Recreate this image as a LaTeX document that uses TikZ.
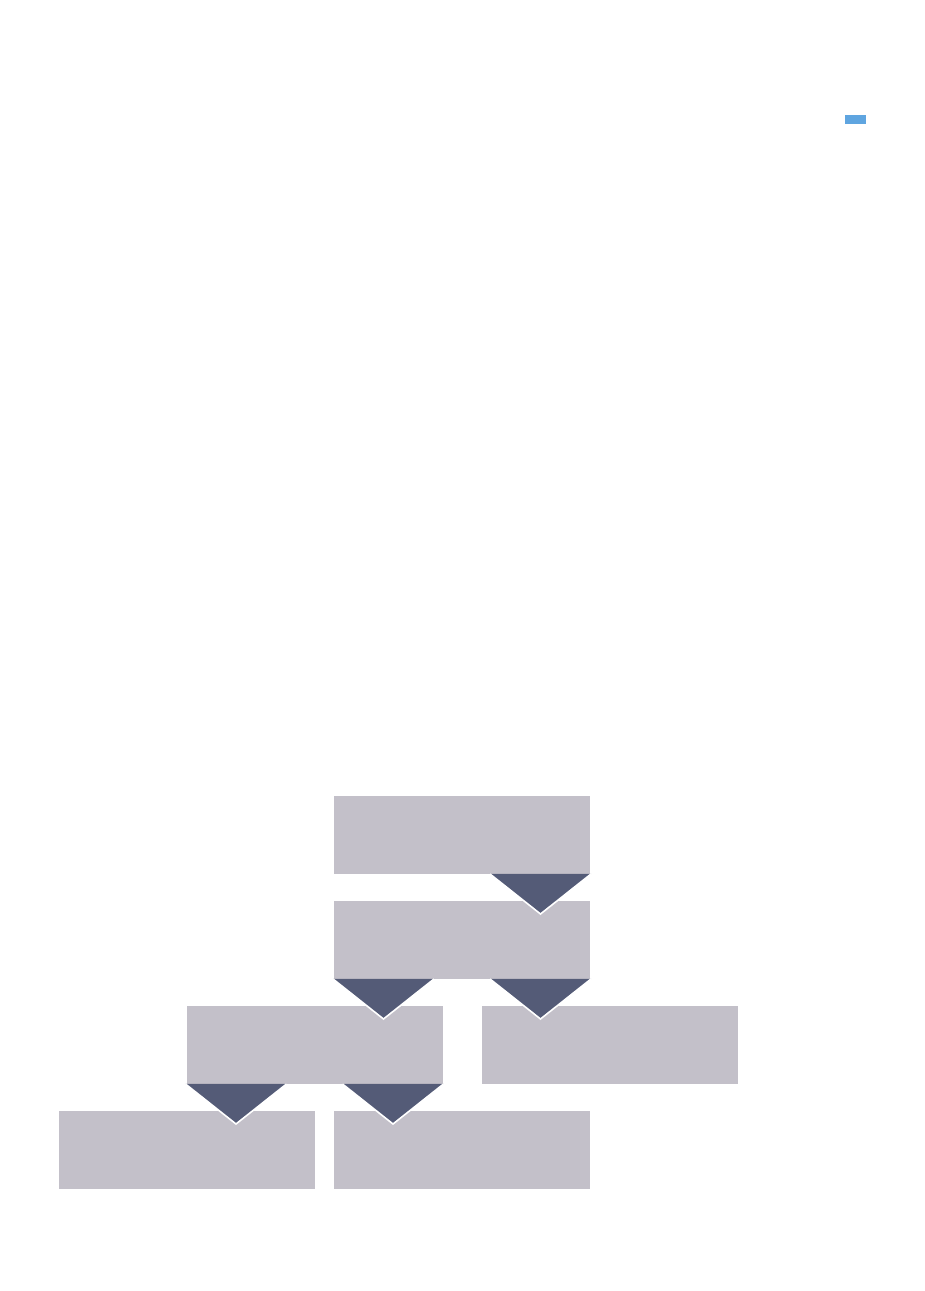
\documentclass[tikz,border=0pt]{standalone}
\usepackage{tikz}
\usetikzlibrary{positioning,calc}
\definecolor{boxColor}{RGB}{195,192,201}
\definecolor{arrowColor}{RGB}{84,91,119}
\definecolor{legendColor}{RGB}{95,165,224}
\tikzstyle{orgChart} = [x = 1pt, y = 1pt]
\tikzstyle{orgBox} = [fill=boxColor, minimum width = 256pt, minimum height = 78pt, inner sep = 0pt, outer sep = 0pt]
\tikzstyle{orgArrow} = [fill=arrowColor, draw=white, line width = 1.6pt, line join = miter]
\tikzstyle{legendMark} = [fill=legendColor, minimum width = 21pt, minimum height = 9pt, inner sep = 0pt]
\newcommand{\boxGap}{27pt}
% triangle under #1 at corner #3, pointing into #2; #4 = -1 (east) or 1 (west)
\newcommand{\treeArrow}[4]{\filldraw [orgArrow] ($(#1.south #3) + (#4 * -1, 0)$) -- ($(#1.south #3 |- #2.north) + (#4 * 49.5, -13)$) -- ($(#1.south #3) + (#4 * 100, 0)$);}

\begin{document}
\begin{tikzpicture}[orgChart]
  \useasboundingbox (0,0) rectangle (925,1291);
  \node [legendMark] (legend) at (855.5,1171.5) {};
  \node [orgBox] (top) at (462,456) {};
  \node [orgBox, below = \boxGap of top] (middle) {};
  \node [orgBox, below = \boxGap of middle, xshift = -147.5pt] (left) {};
  \node [orgBox, below = \boxGap of middle, xshift = 147.5pt] (right) {};
  \node [orgBox, below = \boxGap of left, xshift = -127.5pt] (leftLeft) {};
  \node [orgBox, below = \boxGap of left, xshift = 147.5pt] (leftRight) {};
  \treeArrow{top}{middle}{east}{-1}
  \treeArrow{middle}{left}{west}{1}
  \treeArrow{middle}{right}{east}{-1}
  \treeArrow{left}{leftLeft}{west}{1}
  \treeArrow{left}{leftRight}{east}{-1}
\end{tikzpicture}
\end{document}
